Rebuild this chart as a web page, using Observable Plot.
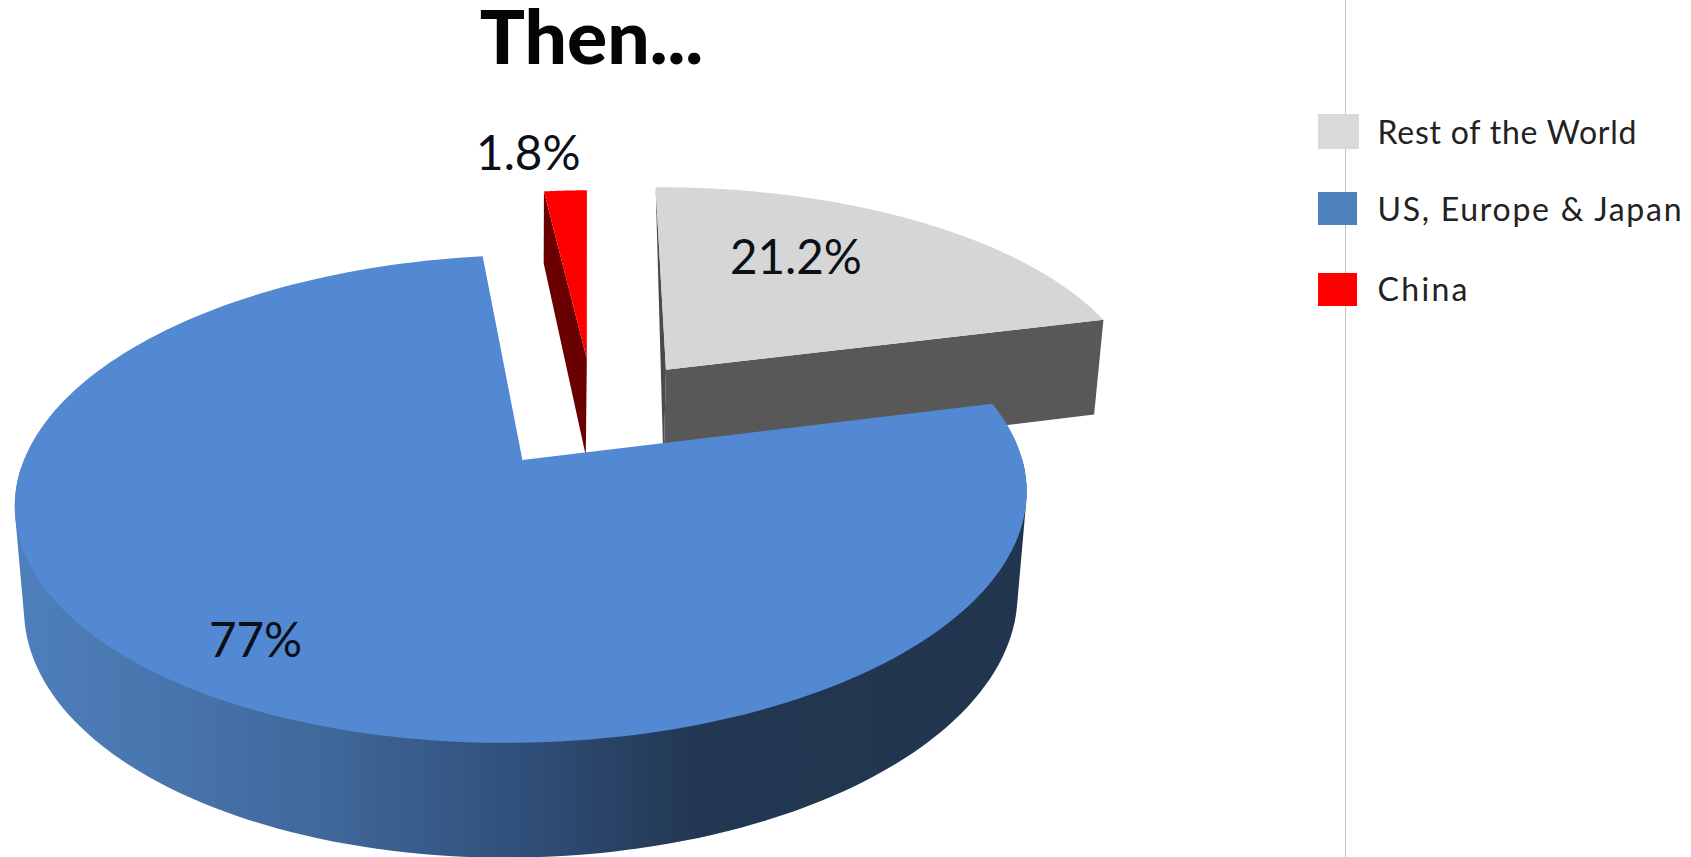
<!DOCTYPE html>
<html>
<head>
<meta charset="utf-8">
<title>Then...</title>
<script src="https://cdn.jsdelivr.net/npm/d3@7"></script>
<script src="https://cdn.jsdelivr.net/npm/@observablehq/plot@0.6"></script>
<style>
  html, body { margin: 0; padding: 0; background: #fff; overflow: hidden; }
  svg { display: block; }
</style>
</head>
<body>
<script>
// Shares of the total, in legend order.
const categories = ["Rest of the World", "US, Europe & Japan", "China"];
const shares = [21.2, 77, 1.8];
const shareLabels = ["21.2%", "77%", "1.8%"];
const titleText = "Then...";

const topColors = ["#d6d6d6", "#5388d2", "#ff0000"];
const wallColors = ["#585858", "#23384f", "#6a0000"];
const swatchColors = ["#d9d9d9", "#4f81bd", "#ff0000"];

// Colour of the blue outer wall from its left end to its right end.
const wallStops = [
  [0, "#4f80bc"], [0.3, "#40699c"], [0.5, "#304f7a"], [0.68, "#223751"], [1, "#21354e"]
];

const WIDTH = 1691;
const HEIGHT = 857;

// Perspective camera: maps a disc position and a drop (0 top face, 1 bottom face) to the page.
const unit = WIDTH / 1568;
function project(a, b, drop = 0) {
  const u = a + 0.143, v = b - 0.205;
  const w = 1 - 0.16 * v + 0.018 * drop;
  return {
    x: unit * (484 + (463 * u - 9.6 * v) / w),
    y: unit * (426 + (-2 * u + 220.4 * v + 96 * drop) / w)
  };
}

// Slices run clockwise from twelve o'clock and are pulled out along their bisectors.
const explode = 0.25;
const radii = [1, 1, 0.93];
const rimDrops = [1, 1, 0.82];
const toDisc = (angle, r) => [r * Math.sin(angle), -r * Math.cos(angle)];

const slices = d3.pie().sort(null).value((d) => d)(shares).map((s, i) => {
  const mid = (s.startAngle + s.endAngle) / 2;
  const [ox, oy] = toDisc(mid, explode);
  const r = radii[i];
  const at = (angle, radius, drop) => {
    const [a, b] = toDisc(angle, radius);
    return project(ox + a, oy + b, drop);
  };
  const steps = d3.range(0, 181).map((k) => s.startAngle + (k / 180) * (s.endAngle - s.startAngle));
  return {
    apex: (drop) => at(0, 0, drop),
    arc: (drop) => steps.map((t) => at(t, r, drop)),
    rim: (angle, drop) => at(angle, r, drop * rimDrops[i]),
    at,
    start: s.startAngle,
    end: s.endAngle,
    mid,
    steps
  };
});

const [rest, major, china] = slices;

const face = (s) => [s.apex(0), ...s.arc(0)];
const cut = (s, angle, rimDrop = 1) => [s.apex(0), s.rim(angle, 0), s.rim(angle, rimDrop), s.apex(1)];
const polygon = (points, fill) => Plot.line(points, {x: "x", y: "y", fill, stroke: "none"});

// Outer wall of the blue slice: the silhouette of its front rim at both face levels.
const frontRim = major.steps
  .filter((t) => t >= Math.PI / 2 && t <= 1.5 * Math.PI)
  .flatMap((t) => [major.rim(t, 0), major.rim(t, 1)]);
const majorWall = d3.polygonHull(frontRim.map((p) => [p.x, p.y])).map(([x, y]) => ({x, y}));

// Label anchors, given as an angle offset from the slice bisector and a radius.
const labelPlacement = [[-0.16, 0.65], [-0.01, 0.82], [-0.07, 1.17]];
const labels = slices.map((s, i) => {
  const [turn, radius] = labelPlacement[i];
  return {...s.at(s.mid + turn, radius, 0), text: shareLabels[i]};
});

// Legend rows.
const legendTop = [114, 192, 273];
const legendBottom = [149, 225, 306];
const legendRight = [1359, 1357, 1357];
const legendMiddle = [133, 210, 290];
const legendWidths = [259, 304, 90];
const legend = categories.map((name, i) => ({
  name,
  fill: swatchColors[i],
  x1: 1318,
  x2: legendRight[i],
  y1: legendTop[i],
  y2: legendBottom[i],
  tx: 1377,
  ty: legendMiddle[i]
}));

const wallGradient = () => {
  const svg = d3.create("svg:defs");
  const g = svg.append("linearGradient").attr("id", "major-wall").attr("x1", 0).attr("x2", 1).attr("y1", 0).attr("y2", 0);
  wallStops.forEach(([o, c]) => g.append("stop").attr("offset", o).attr("stop-color", c));
  return svg.node();
};

const chart = Plot.plot({
  width: WIDTH,
  height: HEIGHT,
  margin: 0,
  x: {domain: [0, WIDTH], range: [0, WIDTH], axis: null},
  y: {domain: [0, HEIGHT], range: [0, HEIGHT], axis: null},
  style: {background: "#fff"},
  marks: [
    wallGradient,
    Plot.ruleX([1345], {stroke: "#c4c4c4", strokeWidth: 1}),

    // Pulled-out grey slice.
    polygon(cut(rest, rest.start, 0), "#4a4a4a"),
    polygon(cut(rest, rest.end), wallColors[0]),
    polygon(face(rest), topColors[0]),

    // Thin red slice.
    polygon(cut(china, china.start), wallColors[2]),
    polygon(face(china), topColors[2]),

    // Large blue slice.
    polygon(majorWall, "url(#major-wall)"),
    polygon(face(major), topColors[1]),

    Plot.text(labels, {
      x: "x", y: "y", text: "text",
      fontFamily: "Lato", fontSize: 47.5, fill: "#0a0f18", textAnchor: "middle"
    }),
    Plot.text([titleText], {
      x: () => 591, y: () => 39, text: (d) => d,
      fontFamily: "Lato", fontWeight: 900, fontSize: 75, fill: "#050505", textAnchor: "middle"
    }),

    Plot.rect(legend, {x1: "x1", x2: "x2", y1: "y1", y2: "y2", fill: "fill"}),
    Plot.text(legend, {
      x: "tx", y: "ty", text: "name", className: "legend-label",
      fontFamily: "Lato", fontSize: 32, fill: "#222", textAnchor: "start"
    })
  ]
});

// Fit each legend entry to its column width.
d3.select(chart).selectAll(".legend-label text")
  .attr("textLength", (_, i) => legendWidths[i])
  .attr("lengthAdjust", "spacing");

document.body.appendChild(chart);
</script>
</body>
</html>
